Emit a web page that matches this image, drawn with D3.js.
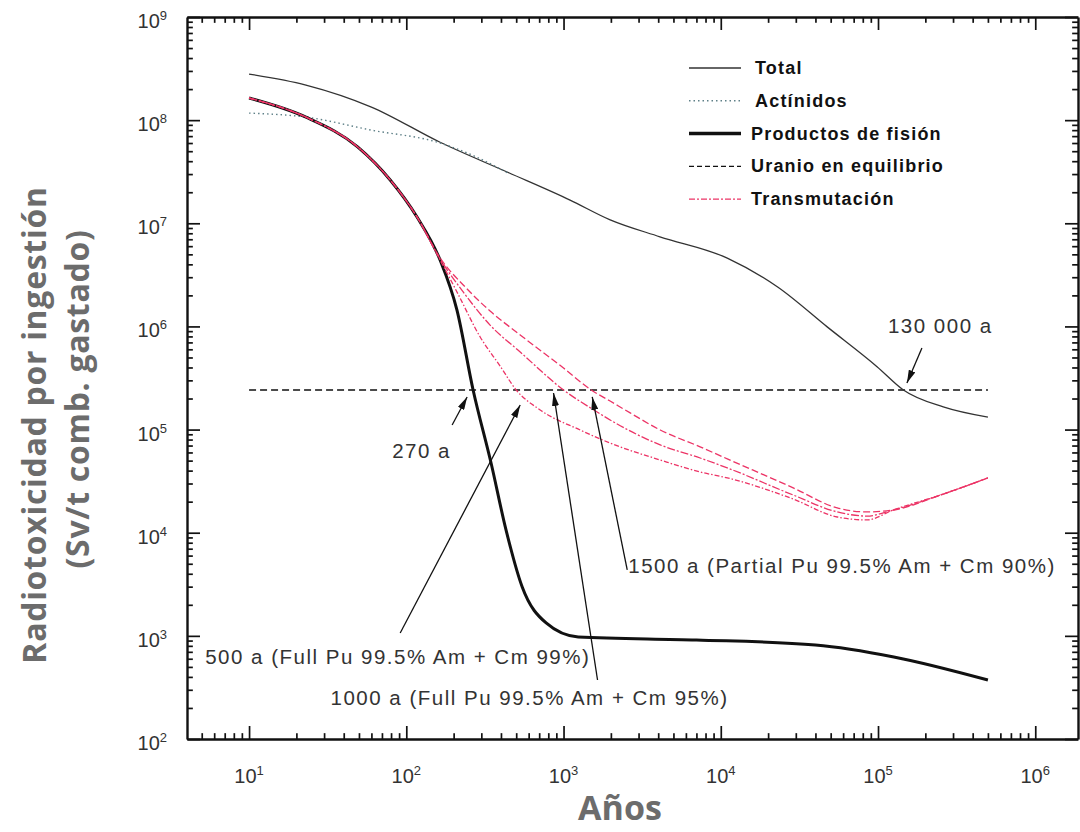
<!DOCTYPE html>
<html>
<head>
<meta charset="utf-8">
<script src="https://cdn.jsdelivr.net/npm/d3@7"></script>
<style>
  body { margin: 0; background: #fff; }
  svg { display: block; }
</style>
</head>
<body>
<div id="chart"></div>
<script>
// values: [years, Sv/t]
var totalPts = [[10,2.8e8],[23,2.19e8],[60,1.34e8],[164,6.1e7],[438,3.14e7],[1100,1.68e7],[1980,1.08e7],[4100,7.4e6],[1.1e4,4.6e6],[2.3e4,2.41e6],[4.75e4,9.9e5],[9.9e4,4.05e5],[1.45e5,2.42e5],[2.6e5,1.66e5],[5e5,1.32e5]]
var actinidePts = [[10,1.17e8],[23,1.07e8],[60,8.0e7],[164,6.0e7],[265,4.55e7],[438,3.1e7]]
var fissionPts = [[10,1.64e8],[23,1.07e8],[49,5.5e7],[79,2.63e7],[117,1.15e7],[164,4.4e6],[210,1.44e6],[266,2.42e5],[346,4.74e4],[431,1.06e4],[546,2975],[775,1333],[1240,975],[7000,912],[4e4,815],[1.26e5,624],[5e5,373]]
var uraniumPts = [[10,2.42e5],[5e5,2.42e5]]
var trans99 = [[10,1.64e8],[23,1.07e8],[49,5.5e7],[79,2.63e7],[117,1.15e7],[164,4.41e6],[210,2.16e6],[295,7.9e5],[395,4.13e5],[500,2.42e5],[710,1.55e5],[1276,9.9e4],[1978,7.4e4],[4120,5.07e4],[7390,3.88e4],[1.1e4,3.4e4],[2.89e4,2.12e4],[5.5e4,1.42e4],[8.5e4,1.33e4],[1.25e5,1.66e4],[2.6e5,2.37e4],[5e5,3.4e4]]
var trans95 = [[10,1.64e8],[23,1.07e8],[49,5.5e7],[79,2.63e7],[117,1.15e7],[164,4.51e6],[230,2.16e6],[341,1.03e6],[530,5.65e5],[1000,2.42e5],[1636,1.48e5],[1978,1.24e5],[4120,7.1e4],[7390,5.3e4],[1.1e4,4.25e4],[2.89e4,2.32e4],[5.5e4,1.59e4],[8.5e4,1.45e4],[1.25e5,1.66e4],[2.6e5,2.37e4],[5e5,3.4e4]]
var trans90 = [[10,1.64e8],[23,1.07e8],[49,5.5e7],[79,2.63e7],[117,1.15e7],[164,4.61e6],[237,2.41e6],[341,1.41e6],[530,8.27e5],[1000,3.95e5],[1500,2.42e5],[1978,1.89e5],[2653,1.45e5],[4120,9.9e4],[7390,6.8e4],[1.1e4,5.2e4],[2.89e4,2.72e4],[5.5e4,1.74e4],[8.5e4,1.59e4],[1.25e5,1.66e4],[2.6e5,2.37e4],[5e5,3.4e4]]

var legendNames = ["Total", "Actínidos", "Productos de fisión", "Uranio en equilibrio", "Transmutación"]
var crossYears = [270, 500, 1000, 1500, 130000]
var crossTexts = ["270 a", "500 a (Full Pu 99.5% Am + Cm 99%)", "1000 a (Full Pu 99.5% Am + Cm 95%)",
                  "1500 a (Partial Pu 99.5% Am + Cm 90%)", "130 000 a"]
var uraniumLevel = 2.42e5

var width = 1080, height = 832
var red = "#ec3466"
var tickFont = "'Liberation Sans', Arial, Helvetica, sans-serif"

var svg = d3.select("#chart").append("svg")
    .attr("width", width)
    .attr("height", height)

var x = d3.scaleLog().domain([4.03, 1.87e6]).range([187, 1078])
var y = d3.scaleLog().domain([1e2, 1e9]).range([739, 17])

function isMajor(d) { return Math.abs(Math.log10(d) - Math.round(Math.log10(d))) < 1e-6 }

// axes, ticks pointing inwards on all four sides
function shrinkMinor(g) {
  g.selectAll(".tick line").each(function(d) {
    if (!isMajor(d)) {
      var l = d3.select(this)
      ;["x2", "y2"].forEach(function(a) { var v = +l.attr(a); if (v) l.attr(a, v * 0.45) })
    }
  })
  g.select(".domain").attr("stroke", "#111").attr("stroke-width", 2.4)
  g.selectAll(".tick line").attr("stroke", "#111").attr("stroke-width", 1.7)
}
var xt = x.ticks(), yt = y.ticks()
svg.append("g").attr("transform", "translate(0," + y.range()[0] + ")")
  .call(d3.axisBottom(x).tickValues(xt).tickSize(-13).tickSizeOuter(0).tickFormat(""))
  .call(shrinkMinor)
svg.append("g").attr("transform", "translate(0," + y.range()[1] + ")")
  .call(d3.axisTop(x).tickValues(xt).tickSize(-13).tickSizeOuter(0).tickFormat(""))
  .call(shrinkMinor)
svg.append("g").attr("transform", "translate(" + x.range()[0] + ",0)")
  .call(d3.axisLeft(y).tickValues(yt).tickSize(-13).tickSizeOuter(0).tickFormat(""))
  .call(shrinkMinor)
svg.append("g").attr("transform", "translate(" + x.range()[1] + ",0)")
  .call(d3.axisRight(y).tickValues(yt).tickSize(-13).tickSizeOuter(0).tickFormat(""))
  .call(shrinkMinor)

// tick labels 10^n
var xl = svg.selectAll(".xlab").data(xt.filter(isMajor)).enter().append("text")
    .attr("x", function(d) { return x(d) })
    .attr("y", 783)
    .attr("text-anchor", "middle")
    .style("font-family", tickFont).style("font-size", "20px").attr("fill", "#333")
xl.append("tspan").text("10")
xl.append("tspan").attr("dy", -8).style("font-size", "13px").text(function(d) { return Math.round(Math.log10(d)) })

var yl = svg.selectAll(".ylab").data(yt.filter(isMajor)).enter().append("text")
    .attr("x", 167)
    .attr("y", function(d) { return y(d) + 11 })
    .attr("text-anchor", "end")
    .style("font-family", tickFont).style("font-size", "20px").attr("fill", "#333")
yl.append("tspan").text("10")
yl.append("tspan").attr("dy", -8).style("font-size", "13px").text(function(d) { return Math.round(Math.log10(d)) })

// axis titles
var title = svg.append("text")
    .attr("transform", "translate(46,425) rotate(-90)")
    .attr("text-anchor", "middle")
    .style("font-family", "'Open Sans', sans-serif").style("font-weight", "bold").style("font-size", "32px")
    .style("letter-spacing", "0.7px")
    .attr("fill", "#6c6c6c")
title.append("tspan").attr("x", 0).text("Radiotoxicidad por ingestión")
title.append("tspan").attr("x", 26).attr("dy", 43).text("(Sv/t comb. gastado)")

svg.append("text")
    .attr("x", 620).attr("y", 820)
    .attr("text-anchor", "middle")
    .style("font-family", "'Open Sans', sans-serif").style("font-weight", "bold").style("font-size", "34px")
    .attr("fill", "#6c6c6c")
    .text("Años")

// curves
svg.append("clipPath").attr("id", "plotclip").append("rect")
    .attr("x", x.range()[0]).attr("y", y.range()[1])
    .attr("width", x.range()[1] - x.range()[0]).attr("height", y.range()[0] - y.range()[1])
var plot = svg.append("g").attr("clip-path", "url(#plotclip)")

var line = d3.line()
    .x(function(d) { return x(d[0]) })
    .y(function(d) { return y(d[1]) })
    .curve(d3.curveMonotoneX)

var series = [
  { pts: uraniumPts, color: "#111", width: 1.4, dash: "7,4" },
  { pts: totalPts, color: "#333", width: 1.3, dash: null },
  { pts: actinidePts, color: "#5f8088", width: 1.4, dash: "1.5,3" },
  { pts: fissionPts, color: "#111", width: 3, dash: null },
  { pts: trans99, color: red, width: 1.3, dash: "5,2,1.5,2" },
  { pts: trans95, color: red, width: 1.3, dash: "8,2,2,2" },
  { pts: trans90, color: red, width: 1.3, dash: "7,3" }
]
plot.selectAll(".curve").data(series).enter().append("path")
    .attr("d", function(d) { return line(d.pts) })
    .attr("fill", "none")
    .attr("stroke", function(d) { return d.color })
    .attr("stroke-width", function(d) { return d.width })
    .attr("stroke-dasharray", function(d) { return d.dash })

// legend
var legendStyles = [
  { color: "#333", width: 1.3, dash: null },
  { color: "#5f8088", width: 1.4, dash: "1.5,3" },
  { color: "#111", width: 3.5, dash: null },
  { color: "#111", width: 1.4, dash: "5,3" },
  { color: red, width: 1.3, dash: "6,2,2,2" }
]
var legend = svg.append("g").selectAll("g").data(legendNames).enter().append("g")
    .attr("transform", function(d, i) { return "translate(0," + (68 + i * 32.8) + ")" })
legend.append("line")
    .attr("x1", 689).attr("x2", 741)
    .attr("stroke", function(d, i) { return legendStyles[i].color })
    .attr("stroke-width", function(d, i) { return legendStyles[i].width })
    .attr("stroke-dasharray", function(d, i) { return legendStyles[i].dash })
legend.append("text")
    .attr("x", function(d, i) { return i < 2 ? 755 : 751 })
    .attr("y", 6)
    .style("font-family", tickFont).style("font-weight", "bold").style("font-size", "18px")
    .style("letter-spacing", "1.2px")
    .attr("fill", "#111")
    .text(function(d) { return d })

// crossing annotations: pixel offsets from the crossing point with the uranium line
var annoLayout = [
  { tip: [-7, 7], tail: [-22, 35], text: [-82, 68] },
  { tip: [4, 15], tail: [-116, 243], text: [-311, 274] },
  { tip: [-10, 3], tail: [34, 290], text: [-233, 315] },
  { tip: [1, 7], tail: [36, 180], text: [37, 183] },
  { tip: [11, -7], tail: [26, -42], text: [-8, -57] }
]
svg.append("defs").append("marker")
    .attr("id", "arrowhead")
    .attr("viewBox", "0 0 13 7")
    .attr("refX", 13).attr("refY", 3.5)
    .attr("markerWidth", 13).attr("markerHeight", 7)
    .attr("markerUnits", "userSpaceOnUse")
    .attr("orient", "auto")
  .append("path").attr("d", "M0,0L13,3.5L0,7Z").attr("fill", "#111")

var anno = svg.append("g").selectAll("g").data(crossYears).enter().append("g")
    .attr("transform", function(d) { return "translate(" + x(d) + "," + y(uraniumLevel) + ")" })
anno.append("line")
    .attr("x1", function(d, i) { return annoLayout[i].tail[0] })
    .attr("y1", function(d, i) { return annoLayout[i].tail[1] })
    .attr("x2", function(d, i) { return annoLayout[i].tip[0] })
    .attr("y2", function(d, i) { return annoLayout[i].tip[1] })
    .attr("stroke", "#111").attr("stroke-width", 1.3)
    .attr("marker-end", "url(#arrowhead)")
anno.append("text")
    .attr("x", function(d, i) { return annoLayout[i].text[0] })
    .attr("y", function(d, i) { return annoLayout[i].text[1] })
    .style("font-family", tickFont).style("font-size", "20.5px").style("letter-spacing", "1.5px")
    .attr("fill", "#333")
    .text(function(d, i) { return crossTexts[i] })
</script>
</body>
</html>
